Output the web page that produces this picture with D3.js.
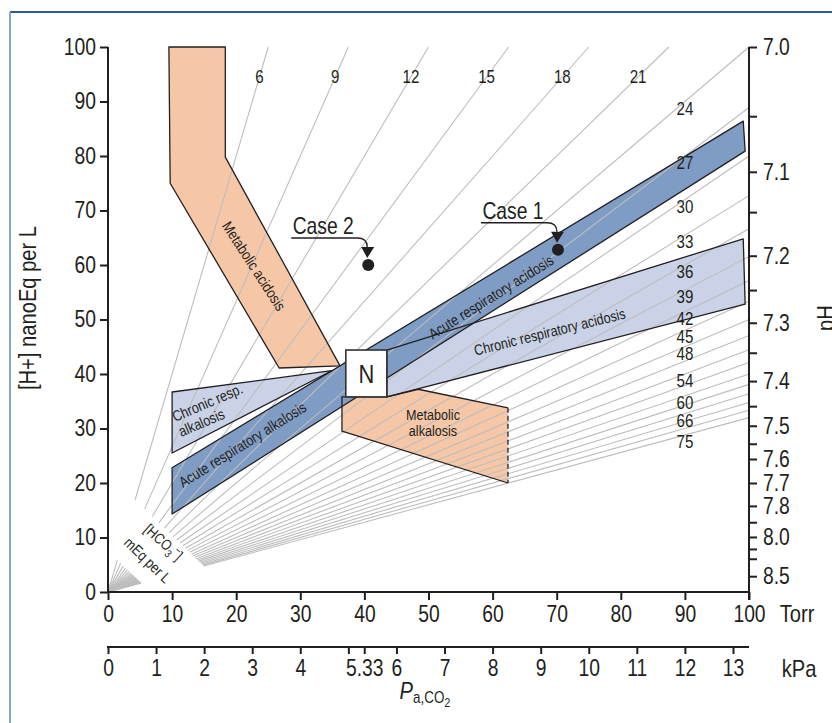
<!DOCTYPE html>
<html>
<head>
<meta charset="utf-8">
<script src="https://cdn.jsdelivr.net/npm/d3@7"></script>
<style>
  body { margin: 0; background: #fff; }
  text { font-family: "Liberation Sans", Arial, sans-serif; fill: #231f20; }
</style>
</head>
<body>
<svg id="chart" width="832" height="723"></svg>
<script>
// ---- data ----
const torrTicks = [0, 10, 20, 30, 40, 50, 60, 70, 80, 90, 100];
const kpaTicks = [0, 1, 2, 3, 4, 5, 5.33, 6, 7, 8, 9, 10, 11, 12, 13];
const hTicks = [0, 10, 20, 30, 40, 50, 60, 70, 80, 90, 100];
// pH ticks and the [H+] level each one sits at on the printed scale
const phTicks = [7.0, 7.05, 7.1, 7.15, 7.2, 7.25, 7.3, 7.35, 7.4, 7.45, 7.5, 7.55, 7.6, 7.7, 7.8, 7.9, 8.0, 8.1, 8.2, 8.5];
const phAtH = [100, 87.3, 77.1, 69.7, 61.7, 55.4, 49.4, 43.9, 38.7, 34.1, 30.5, 27.2, 24.4, 20.0, 15.8, 12.8, 10.1, 7.9, 6.1, 2.9];
const phLabels = [7.0, 7.1, 7.2, 7.3, 7.4, 7.5, 7.6, 7.7, 7.8, 8.0, 8.5];
// bicarbonate isopleths, mEq per L
const hco3Lines = [6, 9, 12, 15, 18, 21, 24, 27, 30, 33, 36, 39, 42, 45, 48, 51, 54, 57, 60, 63, 66, 69, 72, 75];
const hco3Labels = [6, 9, 12, 15, 18, 21, 24, 27, 30, 33, 36, 39, 42, 45, 48, 54, 60, 66, 75];
// regions as [PaCO2 Torr, H+ nEq/L]
const metAcidosis = [[9.5, 100], [18.3, 100], [18.3, 79.8], [36.2, 41.5], [26.7, 41.1], [9.7, 75]];
const chronicAlk = [[10, 36.7], [34.9, 40.6], [10, 25.5]];
const acuteBand = [[10, 22.8], [99.1, 86.4], [99.4, 80.9], [10, 14.3]];
const chronicAcid = [[43.5, 44.4], [99.1, 64.8], [99.4, 52.8], [43.5, 35.8]];
const metAlk = [[36.5, 35.8], [43.5, 35.8], [48.4, 37.2], [62.4, 33.8], [62.4, 20.0], [36.5, 29.5]];
const normalBox = [[37.1, 35.8], [43.5, 44.4]];
const caseNames = ["Case 1", "Case 2"];
const casePco2 = [70.2, 40.6];
const caseH = [62.8, 60.0];

const svg = d3.select("#chart");
const ink = "#231f20";
const S = 0.84; // condensed look, the print uses a narrow face

const x = d3.scaleLinear().domain([0, 100]).range([108, 749]);
const y = d3.scaleLinear().domain([0, 100]).range([592, 47]);
const kpa = d3.scaleLinear().domain([0, 100 / 7.5]).range([108, 749]);
const phY = d3.scaleLinear().domain(phTicks).range(phAtH.map(y));

// text helper: translate, rotate, then squeeze horizontally
function txt(parent, tx, ty, str, size, opt) {
  opt = opt || {};
  const t = parent.append("text").attr("font-size", size)
    .attr("text-anchor", opt.anchor || "middle")
    .attr("transform", `translate(${tx},${ty}) rotate(${opt.rot || 0}) scale(${S},1)`);
  if (opt.dy) t.attr("dy", opt.dy);
  if (str !== null) t.text(str);
  return t;
}

// frame
svg.append("line").attr("x1", 10).attr("x2", 832).attr("y1", 12).attr("y2", 12)
  .attr("stroke", "#2b5c97").attr("stroke-width", 2);
svg.append("line").attr("x1", 10).attr("x2", 10).attr("y1", 12).attr("y2", 723)
  .attr("stroke", "#7fa7cf").attr("stroke-width", 2);

const pts = (p) => p.map(d => [x(d[0]), y(d[1])]);
const line = d3.line();

// region fills first, outlines after, so overlapping edges stay visible
const regions = [
  { poly: metAcidosis, fill: "#f6c7a7" },
  { poly: chronicAlk, fill: "#c9d2e6" },
  { poly: metAlk, fill: "#f6c7a7" },
  { poly: chronicAcid, fill: "#c9d2e6" },
  { poly: acuteBand, fill: "#7f9cc5" }
];
svg.append("g").selectAll("path").data(regions).enter().append("path")
  .attr("d", d => line(pts(d.poly)) + "Z")
  .attr("fill", d => d.fill);

// isopleths H = 24 * PCO2 / HCO3
const iso = svg.append("g").attr("stroke", "#bdbdbd").attr("stroke-width", 1.1).attr("fill", "none");
hco3Lines.forEach(c => {
  const k = 24 / c;
  const t0 = 21.64 / (k + 1.128);
  const t1 = Math.min(100, 100 / k);
  iso.append("line").attr("x1", x(t0)).attr("y1", y(k * t0)).attr("x2", x(t1)).attr("y2", y(k * t1));
  const tf = 7.47 / (k + 1.12);
  iso.append("line").attr("x1", x(0)).attr("y1", y(0)).attr("x2", x(tf)).attr("y2", y(k * tf));
});

// outlines
const outl = svg.append("g").attr("fill", "none").attr("stroke", ink).attr("stroke-width", 1.3).attr("stroke-linejoin", "round");
[metAcidosis, chronicAlk, chronicAcid, acuteBand].forEach(p => outl.append("path").attr("d", line(pts(p)) + "Z"));
const ma = pts(metAlk);
outl.append("path").attr("d", line([ma[3], ma[2], ma[1], ma[0], ma[5], ma[4]]));
outl.append("line").attr("x1", ma[3][0]).attr("y1", ma[3][1]).attr("x2", ma[4][0]).attr("y2", ma[4][1])
  .attr("stroke-dasharray", "5,3");

// isopleth labels
const lab = svg.append("g");
hco3Labels.forEach(c => {
  const k = 24 / c;
  if (c <= 21) txt(lab, x(94.5 / k), y(94.5), c, 18, { dy: "0.35em" });
  else txt(lab, x(90), y(90 * k) + 13, c, 18);
});

// region labels
function rlabel(tx, ty, ang, lines, anchor, dy) {
  const t = txt(svg, tx, ty, null, 15, { rot: ang, anchor: anchor });
  lines.forEach((s, i) => t.append("tspan").attr("x", 0).attr("dy", i === 0 ? dy : "1.08em").text(s));
}
rlabel(254, 266, 57, ["Metabolic acidosis"], "middle", "0.35em");
rlabel(491, 297, -32, ["Acute respiratory acidosis"], "middle", "0.35em");
rlabel(551, 337, -14, ["Chronic respiratory acidosis"], "middle", "0");
rlabel(175, 422, -23, ["Chronic resp.", "alkalosis"], "start", "0");
rlabel(183, 488, -32, ["Acute respiratory alkalosis"], "start", "0");
rlabel(433, 420, 0, ["Metabolic", "alkalosis"], "middle", "0");

const hc = txt(svg, 160, 546, null, 15, { rot: 42 });
hc.append("tspan").text("[HCO");
hc.append("tspan").attr("font-size", 11).attr("dy", 4).text("3");
hc.append("tspan").attr("font-size", 11).attr("dy", -9).text("\u2212");
hc.append("tspan").attr("dy", 5).text("]");
txt(svg, 144, 564, "mEq per L", 15, { rot: 44 });

// normal box
const nb = pts(normalBox);
svg.append("rect").attr("x", nb[0][0]).attr("y", nb[1][1])
  .attr("width", nb[1][0] - nb[0][0]).attr("height", nb[0][1] - nb[1][1])
  .attr("fill", "#fff").attr("stroke", "#333").attr("stroke-width", 1.6);
txt(svg, (nb[0][0] + nb[1][0]) / 2, (nb[0][1] + nb[1][1]) / 2, "N", 26, { dy: "0.36em" });

// cases
caseNames.forEach((name, i) => {
  const px = x(casePco2[i]), py = y(caseH[i]);
  svg.append("circle").attr("cx", px).attr("cy", py).attr("r", 6).attr("fill", ink);
  svg.append("path")
    .attr("d", `M${px - 77},${py - 27}H${px - 11}Q${px - 1},${py - 27} ${px - 1},${py - 18}`)
    .attr("fill", "none").attr("stroke", ink).attr("stroke-width", 1.3);
  svg.append("path")
    .attr("d", `M${px - 7},${py - 18}L${px + 6},${py - 18}L${px - 1},${py - 7}Z`).attr("fill", ink);
  txt(svg, px - 45, py - 31, name, 23);
});

// axes
function styleAxis(g) {
  g.select(".domain").remove();
  g.selectAll(".tick line").attr("stroke", ink).attr("stroke-width", 2);
  g.selectAll(".tick text").attr("font-size", 23).attr("fill", ink)
    .attr("font-family", "'Liberation Sans', Arial, sans-serif")
    .each(function () {
      const t = d3.select(this);
      const tx = +t.attr("x") || 0, ty = +t.attr("y") || 0;
      t.attr("x", null).attr("y", null).attr("transform", `translate(${tx},${ty}) scale(${S},1)`);
    });
}
const ax = svg.append("g").attr("stroke", ink).attr("stroke-width", 2);
ax.append("line").attr("x1", 108).attr("x2", 108).attr("y1", y(100)).attr("y2", y(0));
ax.append("line").attr("x1", 107).attr("x2", 749).attr("y1", y(0)).attr("y2", y(0));
ax.append("line").attr("x1", 749).attr("x2", 749).attr("y1", y(100)).attr("y2", 600);
ax.append("line").attr("x1", 107).attr("x2", 749).attr("y1", 647).attr("y2", 647);

svg.append("g").attr("transform", "translate(108,0)")
  .call(d3.axisLeft(y).tickValues(hTicks).tickSize(8).tickPadding(4).tickSizeOuter(0))
  .call(styleAxis);
svg.append("g").attr("transform", `translate(0,${y(0)})`)
  .call(d3.axisBottom(x).tickValues(torrTicks).tickSize(8).tickPadding(6).tickSizeOuter(0))
  .call(styleAxis);
svg.append("g").attr("transform", "translate(0,647)")
  .call(d3.axisBottom(kpa).tickValues(kpaTicks).tickSize(7).tickPadding(6).tickSizeOuter(0)
    .tickFormat(d => d === 5 ? "" : d === 5.33 ? "5.33" : d))
  .call(styleAxis);
svg.append("g").attr("transform", "translate(749,0)")
  .call(d3.axisRight(phY).tickValues(phTicks).tickSize(8).tickPadding(6).tickSizeOuter(0)
    .tickFormat(d => phLabels.includes(d) ? d.toFixed(1) : ""))
  .call(styleAxis);

// axis titles
txt(svg, 797, 614, "Torr", 24, { dy: "0.35em" });
txt(svg, 799, 669, "kPa", 24, { dy: "0.35em" });
const pt = txt(svg, 425, 699, null, 24);
pt.append("tspan").attr("font-style", "italic").text("P");
pt.append("tspan").attr("font-size", 16).attr("dy", 4).text("a,CO");
pt.append("tspan").attr("font-size", 13).attr("dy", 4).text("2");
txt(svg, 36, 308, "[H+] nanoEq per L", 24, { rot: -90 });
txt(svg, 834, 318, "pH", 24, { rot: -90 });
</script>
</body>
</html>
